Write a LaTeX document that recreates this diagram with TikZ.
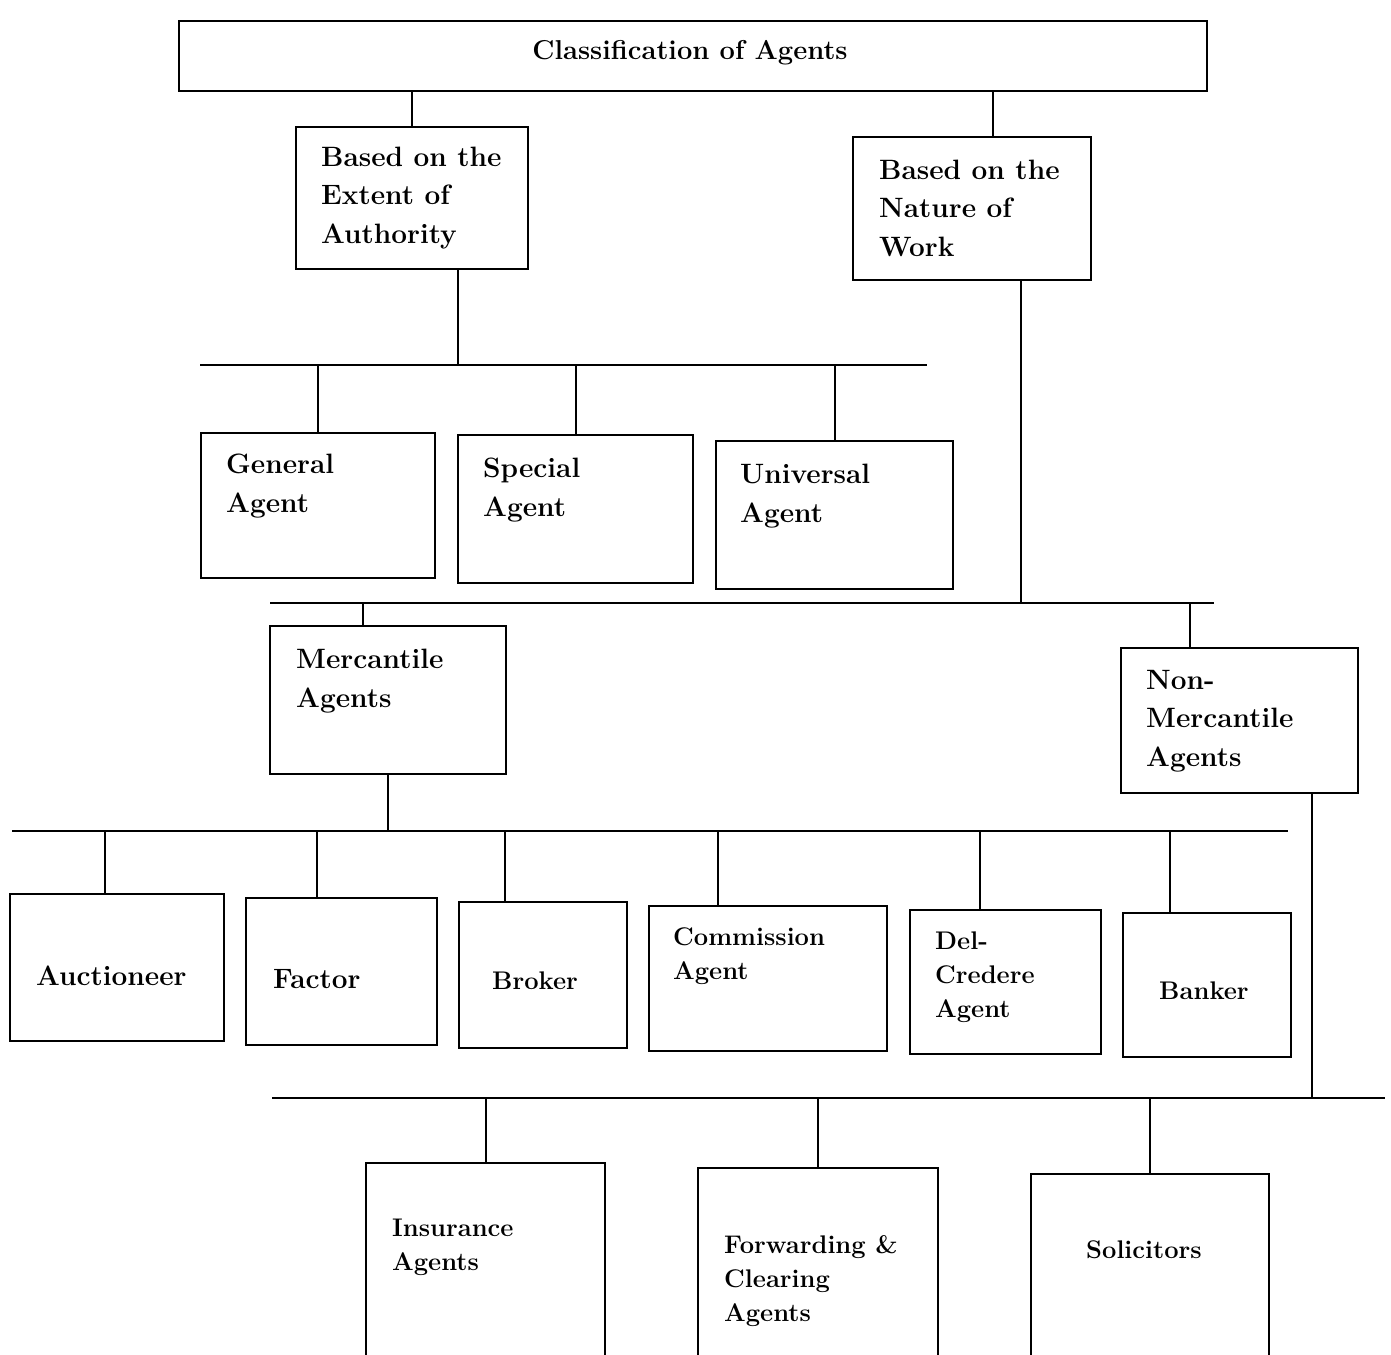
\documentclass[tikz,border=0pt]{standalone}
\usepackage{fontspec}
\begin{document}
\begin{tikzpicture}[x=1pt,y=-1pt,
  box/.style={draw, line width=2.2pt, inner sep=0pt, anchor=north west},
  lbl/.style={anchor=west, align=left, inner sep=0pt, font=\fontsize{28}{38.5}\selectfont\bfseries},
  lbls/.style={anchor=west, align=left, inner sep=0pt, font=\fontsize{25.5}{34}\selectfont\bfseries},
  conn/.style={line width=2.2pt}]
\clip (0,0) rectangle (1391,1354);
\fill[white] (0,0) rectangle (1391,1354);
% boxes
\node[box, minimum width=1028, minimum height=70] (top) at (178,20) {};
\node[box, minimum width=232, minimum height=142] (authority) at (295,126) {};
\node[box, minimum width=238, minimum height=143] (nature) at (852,136) {};
\node[box, minimum width=234, minimum height=145] (general) at (200,432) {};
\node[box, minimum width=235, minimum height=148] (special) at (457,434) {};
\node[box, minimum width=237, minimum height=148] (universal) at (715,440) {};
\node[box, minimum width=236, minimum height=148] (merc) at (269,625) {};
\node[box, minimum width=237, minimum height=145] (nonmerc) at (1120,647) {};
\node[box, minimum width=214, minimum height=147] (auction) at (9,893) {};
\node[box, minimum width=191, minimum height=147] (factor) at (245,897) {};
\node[box, minimum width=168, minimum height=146] (broker) at (458,901) {};
\node[box, minimum width=238, minimum height=145] (commission) at (648,905) {};
\node[box, minimum width=191, minimum height=144] (delcredere) at (909,909) {};
\node[box, minimum width=168, minimum height=144] (banker) at (1122,912) {};
\node[box, minimum width=239, minimum height=260] (insurance) at (365,1162) {};
\node[box, minimum width=240, minimum height=260] (forwarding) at (697,1167) {};
\node[box, minimum width=238, minimum height=260] (solicitors) at (1030,1173) {};
% texts
\node[lbl, anchor=center, font=\fontsize{27.3}{34}\selectfont\bfseries] (topT) at (690,53) {Classification of Agents};
\node[lbl] (authorityT) at (321,198) {Based on the\\Extent of\\Authority};
\node[lbl] (natureT) at (879,208) {Based on the\\Nature of\\Work};
\node[lbl] (generalT) at (226,486) {General\\Agent};
\node[lbl] (specialT) at (483,490) {Special\\Agent};
\node[lbl] (universalT) at (740,496) {Universal\\Agent};
\node[lbl] (mercT) at (296,681) {Mercantile\\Agents};
\node[lbl] (nonmercT) at (1146,721) {Non-\\Mercantile\\Agents};
\node[lbl] (auctionT) at (36,976) {Auctioneer};
\node[lbl] (factorT) at (273,979) {Factor};
\node[lbls] (brokerT) at (492,981) {Broker};
\node[lbls] (commissionT) at (673,956) {Commission\\Agent};
\node[lbls] (delcredereT) at (935,977) {Del-\\Credere\\Agent};
\node[lbls] (bankerT) at (1159,991) {Banker};
\node[lbls] (insuranceT) at (392,1247) {Insurance\\Agents};
\node[lbls] (forwardingT) at (724,1281) {Forwarding \&\\Clearing\\Agents};
\node[lbls] (solicitorsT) at (1086,1250) {Solicitors};
% bars and junctions
\coordinate (b1l) at (200,365); \coordinate (b1r) at (927,365);
\coordinate (b2l) at (270,603); \coordinate (b2r) at (1214,603);
\coordinate (b3l) at (12,831);  \coordinate (b3r) at (1288,831);
\coordinate (b4l) at (272,1098); \coordinate (b4r) at (1385,1098);
\coordinate (n1) at (993,60);
\coordinate (j1) at (458,365);
\coordinate (j2) at (1021,603);
\coordinate (j4) at (1312,1098);
\coordinate (m1) at (363,603);
\coordinate (m2) at (1190,603);
\coordinate (c1) at (105,831);
\coordinate (c2) at (317,831);
\coordinate (c3) at (505,831);
\coordinate (c4) at (718,831);
\coordinate (c5) at (980,831);
\coordinate (c6) at (1170,831);
\draw[conn] (b1l) -- (b1r);
\draw[conn] (b2l) -- (b2r);
\draw[conn] (b3l) -- (b3r);
\draw[conn] (b4l) -- (b4r);
% connectors
\draw[conn] (authority.north |- top.south) -- (authority.north);
\draw[conn] (n1 |- top.south) -- (n1 |- nature.north);
\draw[conn] (j1 |- authority.south) -- (j1);
\draw[conn] (general.north |- b1l) -- (general.north);
\draw[conn] (special.north |- b1l) -- (special.north);
\draw[conn] (universal.north |- b1l) -- (universal.north);
\draw[conn] (j2 |- nature.south) -- (j2);
\draw[conn] (m1) -- (m1 |- merc.north);
\draw[conn] (m2) -- (m2 |- nonmerc.north);
\draw[conn] (merc.south) -- (merc.south |- b3l);
\draw[conn] (c1) -- (c1 |- auction.north);
\draw[conn] (c2) -- (c2 |- factor.north);
\draw[conn] (c3) -- (c3 |- broker.north);
\draw[conn] (c4) -- (c4 |- commission.north);
\draw[conn] (c5) -- (c5 |- delcredere.north);
\draw[conn] (c6) -- (c6 |- banker.north);
\draw[conn] (j4 |- nonmerc.south) -- (j4);
\draw[conn] (insurance.north |- b4l) -- (insurance.north);
\draw[conn] (forwarding.north |- b4l) -- (forwarding.north);
\draw[conn] (solicitors.north |- b4l) -- (solicitors.north);
\end{tikzpicture}
\end{document}
